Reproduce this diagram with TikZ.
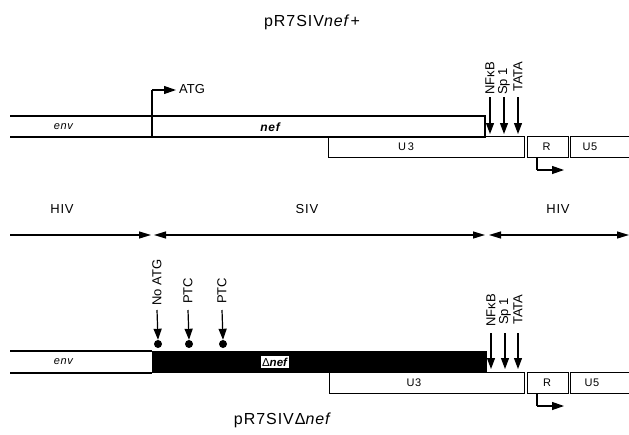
\documentclass[tikz,border=0pt]{standalone}
\usepackage{fontspec}
\setmainfont{Liberation Sans}
\newfontfamily\widefont[LetterSpace=6]{Liberation Sans}
\usetikzlibrary{arrows.meta}
\tikzset{
  lw/.style={line width=1.1pt},
  box/.style={draw, lw, inner sep=0pt, anchor=north west},
  tip/.style={-{Triangle[length=11pt,width=8pt]}, line width=1.2pt},
  span/.style={line width=1.2pt},
  rot/.style={rotate=90, anchor=west, inner sep=0pt, font=\fontsize{13}{14}\selectfont},
  lbl/.style={inner sep=0pt, font=\widefont\fontsize{13}{15}\selectfont},
  atgs/.style={inner sep=0pt, font=\fontsize{13}{15}\selectfont},
  sm/.style={inner sep=0pt, font=\widefont\fontsize{11}{12}\selectfont},
  ttl/.style={inner sep=0pt, font=\widefont\fontsize{16}{18}\selectfont},
  dot/.style={circle, fill, inner sep=0pt, minimum size=8pt}
}
\begin{document}
\begin{tikzpicture}[x=1pt,y=-1pt]
\useasboundingbox (0,0) rectangle (629,434);
% ---------------- top construct ----------------
\node[ttl] (t1) at (312,22) {pR7SIV\textit{nef}+};
% env/nef band
\node[box, minimum width=142pt, minimum height=21pt, draw=none] (env1) at (10,116) {};
\draw[lw] (10,116) -- (485,116) -- (485,137) -- (10,137);
\node[box, minimum width=333pt, minimum height=21pt, draw=none] (nef1) at (152,116) {};
\draw[line width=2pt] (152,137) -- (152,116);
\node[sm] (envt1) at (64,127) {\textit{env}};
\node[sm] (neft1) at (271,127) {\fontsize{12}{13}\selectfont\textbf{\textit{nef}}};
% LTR boxes
\node[box, minimum width=196pt, minimum height=21pt] (u3a) at (328,136) {};
\node[box, minimum width=41pt, minimum height=21pt] (ra) at (527,136) {};
\node[box, minimum width=62pt, minimum height=21pt] (u5a) at (570,136) {};
\node[sm] at (406,147) {U\,3};
\node[sm] at (546.5,147) {R};
\node[sm] at (590,147) {U5};
% ATG
\coordinate (atg0) at (152,137);
\coordinate (atg1) at (152,90);
\coordinate (atg2) at (176,90);
\draw[lw] (atg0) -- (atg1);
\draw[-{Triangle[length=12pt,width=8pt]}, line width=1.2pt] (atg1) -- (atg2);
\node[atgs, anchor=west] (atgl) at (179,89) {ATG};
% promoter elements
\node[rot] (nfa) at (490,95) {NFκB};
\node[rot] (spa) at (504,95) {Sp 1};
\node[rot] (taa) at (518,92) {TATA};
\coordinate (nfa0) at (490,97);
\coordinate (spa0) at (504,97);
\coordinate (taa0) at (518,97);
\coordinate (nfa1) at (490,134);
\coordinate (spa1) at (504,134);
\coordinate (taa1) at (518,134);
\draw[tip] (nfa0) -- (nfa1);
\draw[tip] (spa0) -- (spa1);
\draw[tip] (taa0) -- (taa1);
% R start arrow
\coordinate (ra0) at (537,157);
\coordinate (ra1) at (537,170);
\coordinate (ra2) at (564,170);
\draw[lw] (ra0) -- (ra1);
\draw[-{Triangle[length=12pt,width=8pt]}, line width=1.2pt] (ra1) -- (ra2);
% ---------------- middle spans ----------------
\node[lbl] (hiv1) at (62,209) {HIV};
\node[lbl] (siv) at (307,209) {SIV};
\node[lbl] (hiv2) at (558,209) {HIV};
\coordinate (m0) at (10,235);
\coordinate (m1) at (151,235);
\coordinate (m2) at (154,235);
\coordinate (m3) at (485,235);
\coordinate (m4) at (489,235);
\coordinate (m5) at (629,235);
\draw[span, -{Triangle[length=12pt,width=7pt]}] (m0) -- (m1);
\draw[span, {Triangle[length=12pt,width=7pt]}-{Triangle[length=12pt,width=7pt]}] (m2) -- (m3);
\draw[span, {Triangle[length=12pt,width=7pt]}-{Triangle[length=12pt,width=7pt]}] (m4) -- (m5);
% ---------------- bottom construct ----------------
\node[box, minimum width=334pt, minimum height=21pt, fill=black] (nef2) at (152,351) {};
\draw[lw] (152,351) -- (10,351);
\draw[lw] (10,373) -- (152,373);
\node[sm] (envt2) at (64,362) {\textit{env}};
\node[fill=white, inner sep=1.5pt, font=\fontsize{11.5}{12}\selectfont] (neft2) at (275,362) {Δ\textbf{\textit{nef}}};
\node[box, minimum width=195pt, minimum height=21pt] (u3b) at (329,372) {};
\node[box, minimum width=41pt, minimum height=21pt] (rb) at (527,372) {};
\node[box, minimum width=62pt, minimum height=21pt] (u5b) at (570,372) {};
\node[sm] at (414,383) {U3};
\node[sm] at (547,383) {R};
\node[sm] at (592,383) {U5};
% mutation marks
\node[rot] (noatg) at (157,306) {No ATG};
\node[rot] (ptc1) at (188,304) {PTC};
\node[rot] (ptc2) at (222,304) {PTC};
\node[dot] (d1) at (158,344) {};
\node[dot] (d2) at (189,344) {};
\node[dot] (d3) at (223,344) {};
\coordinate (d1a) at (157,310);
\coordinate (d2a) at (188,310);
\coordinate (d3a) at (222,310);
\draw[tip] (d1a) -- (d1.north);
\draw[tip] (d2a) -- (d2.north);
\draw[tip] (d3a) -- (d3.north);
% promoter elements
\node[rot] (nfb) at (491,327) {NFκB};
\node[rot] (spb) at (505,325) {Sp 1};
\node[rot] (tab) at (518,325) {TATA};
\coordinate (nfb0) at (491,333);
\coordinate (spb0) at (505,333);
\coordinate (tab0) at (518,333);
\coordinate (nfb1) at (491,369);
\coordinate (spb1) at (505,369);
\coordinate (tab1) at (518,369);
\draw[tip] (nfb0) -- (nfb1);
\draw[tip] (spb0) -- (spb1);
\draw[tip] (tab0) -- (tab1);
% R start arrow
\coordinate (rb0) at (537,393);
\coordinate (rb1) at (537,406);
\coordinate (rb2) at (564,406);
\draw[lw] (rb0) -- (rb1);
\draw[-{Triangle[length=12pt,width=8pt]}, line width=1.2pt] (rb1) -- (rb2);
\node[ttl] (t2) at (283,420) {pR7SIVΔ\textit{nef}};
\end{tikzpicture}
\end{document}
